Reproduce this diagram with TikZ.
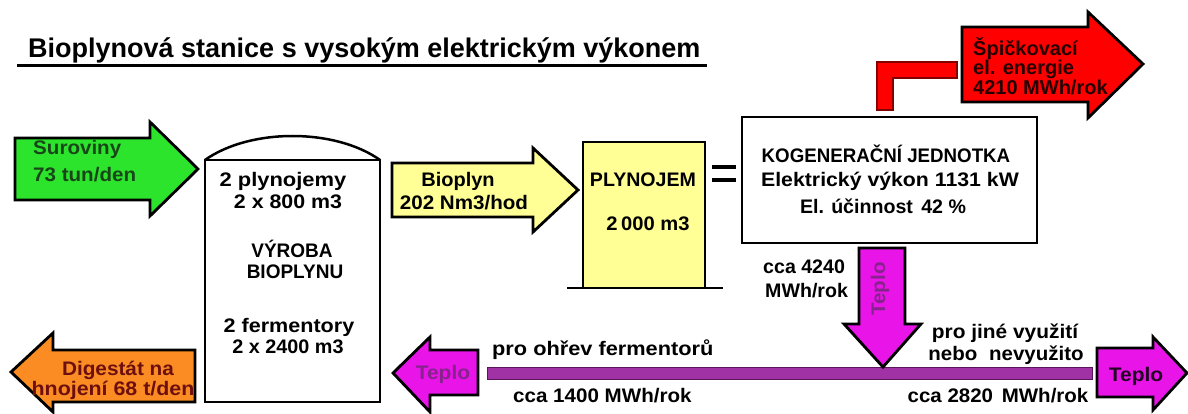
\documentclass[tikz,border=0pt]{standalone}
\usepackage{fontspec}
\setmainfont{Liberation Sans}
\definecolor{cgreen}{RGB}{45,228,45}
\definecolor{cyellow}{RGB}{255,255,150}
\definecolor{cred}{RGB}{255,0,0}
\definecolor{cdarkred}{RGB}{130,0,0}
\definecolor{corange}{RGB}{250,140,35}
\definecolor{cmag}{RGB}{232,20,232}
\definecolor{cpurple}{RGB}{160,50,165}
\definecolor{cdarkpurple}{RGB}{90,20,90}
\definecolor{ctxtgreen}{RGB}{25,70,25}
\definecolor{ctxtred}{RGB}{110,15,15}
\definecolor{ctxtmag}{RGB}{135,35,140}
\newcommand{\sxw}[2]{\scalebox{#1}[1]{#2}}
\begin{document}
\begin{tikzpicture}[x=1pt,y=-1pt,
  lbl/.style={font=\bfseries\fontsize{#1}{22}\selectfont, inner sep=0pt},
  lbl/.default=19.6,
  shp/.style={draw=black, line width=2.8pt, line join=miter},
  boxln/.style={draw=black, line width=2.5pt}]

\useasboundingbox (0,0) rectangle (1188,414);
\fill[white] (0,0) rectangle (1188,414);

% title
\node[lbl=27, anchor=base west] (title) at (28,58) {Bioplynová stanice s vysokým elektrickým výkonem};
\draw[line width=3pt] (17,66) -- (707,66);

% green arrow
\filldraw[shp, fill=cgreen] (15,138) -- (150,138) -- (150,122) -- (198,169) -- (150,216) -- (150,200) -- (15,200) -- cycle;
\node[lbl, anchor=base west, text=ctxtgreen] (sur1) at (33,155) {\sxw{1.05}{Suroviny}};
\node[lbl, anchor=base west, text=ctxtgreen] (sur2) at (33,182) {\sxw{1.05}{73 tun/den}};

% vessel
\draw[boxln] (205,160) rectangle (380,402);
\draw[boxln] (205,160) .. controls (250,128) and (335,128) .. (380,160);
\node[lbl, anchor=base] (v1) at (283,186) {\sxw{1.12}{2 plynojemy}};
\node[lbl, anchor=base] (v2) at (288,208) {\sxw{1.09}{2 x 800 m3}};
\node[lbl, anchor=base] (v3) at (292,257) {\sxw{0.97}{VÝROBA}};
\node[lbl, anchor=base] (v4) at (295,278) {\sxw{0.97}{BIOPLYNU}};
\node[lbl, anchor=base] (v5) at (289,332) {\sxw{1.1}{2 fermentory}};
\node[lbl, anchor=base] (v6) at (288,353) {\sxw{1.01}{2 x 2400 m3}};

% yellow arrow
\filldraw[shp, fill=cyellow] (392,163) -- (533,163) -- (533,148) -- (578,190) -- (533,232) -- (533,217) -- (392,217) -- cycle;
\node[lbl, anchor=base] (b1) at (458,187) {\sxw{1.02}{Bioplyn}};
\node[lbl, anchor=base] (b2) at (464,209) {\sxw{1.05}{202 Nm3/hod}};

% plynojem
\filldraw[boxln, fill=cyellow] (583,142) rectangle (705,288);
\draw[boxln] (567,288) -- (723,288);
\node[lbl, anchor=base] (p1) at (643,187) {PLYNOJEM};
\node[lbl, anchor=base] (p2) at (648,230) {\sxw{1.03}{2\,000 m3}};

% equals
\draw[line width=4pt] (712,167) -- (736,167);
\draw[line width=4pt] (712,180) -- (736,180);

% kogeneracni jednotka
\draw[boxln] (742,117) rectangle (1037,243);
\node[lbl, anchor=base] (k1) at (886,163) {\sxw{0.955}{KOGENERAČNÍ JEDNOTKA}};
\node[lbl, anchor=base] (k2) at (890,187) {\sxw{1.085}{Elektrický výkon 1131 kW}};
\node[lbl, anchor=base] (k3) at (883,213) {El. účinnost\hspace{0.15em} 42 \%};

% red elbow and arrow
\filldraw[fill=cred, draw=cdarkred, line width=1.5pt] (877,62) -- (957,62) -- (957,78) -- (893,78) -- (893,110) -- (877,110) -- cycle;
\filldraw[shp, fill=cred] (962,27) -- (1088,27) -- (1088,12) -- (1143,64) -- (1088,118) -- (1088,102) -- (962,102) -- cycle;
\node[font=\bfseries\fontsize{20}{18.2}\selectfont, inner sep=0pt, align=left, anchor=north west, text=black!85!red] (s1) at (973,37) {Špičkovací\\el. energie\\4210 MWh/rok};

% heat band
\filldraw[fill=cpurple, draw=cdarkpurple, line width=1pt] (487,367) rectangle (1092,379);

% down arrow
\filldraw[shp, fill=cmag] (859,248) -- (905,248) -- (905,324) -- (921,324) -- (883,367) -- (844,324) -- (859,324) -- cycle;
\node[lbl, rotate=90, text=ctxtmag] (t0) at (880,289) {\sxw{1.05}{Teplo}};

% left heat arrow
\filldraw[shp, fill=cmag] (478,350) -- (430,350) -- (430,337) -- (393,373) -- (430,412) -- (430,395) -- (478,395) -- cycle;
\node[lbl, anchor=base, text=ctxtmag] (tl) at (443,379) {\sxw{1.07}{Teplo}};

% right heat arrow
\filldraw[shp, fill=cmag] (1097,348) -- (1153,348) -- (1153,337) -- (1187,373) -- (1153,410) -- (1153,397) -- (1097,397) -- cycle;
\node[lbl, anchor=base, text=black!85!cmag] (tr) at (1136,381) {\sxw{1.07}{Teplo}};

% orange arrow
\filldraw[shp, fill=corange] (195,350) -- (53,350) -- (53,333) -- (11,372) -- (53,412) -- (53,402) -- (195,402) -- cycle;
\node[lbl, anchor=base, text=ctxtred] (d1) at (118,375) {\sxw{1.06}{Digestát na}};
\node[lbl, anchor=base, text=ctxtred] (d2) at (113,395) {\sxw{1.09}{hnojení 68 t/den}};

% free labels
\node[lbl, anchor=base west] (c1) at (763,273) {cca 4240};
\node[lbl, anchor=base west] (c2) at (765,297) {MWh/rok};
\node[lbl, anchor=base west] (f1) at (492,355) {\sxw{1.11}{pro ohřev fermentorů}};
\node[lbl, anchor=base west] (f2) at (513,402) {\sxw{1.05}{cca 1400 MWh/rok}};
\node[lbl, anchor=base] (j1) at (1005,338) {\sxw{1.065}{pro jiné využití}};
\node[lbl, anchor=base] (j2) at (1006,360) {\sxw{1.045}{nebo\hspace{0.3em} nevyužito}};
\node[lbl, anchor=base] (j3) at (998,402) {\sxw{1.045}{cca 2820\hspace{0.15em} MWh/rok}};
\end{tikzpicture}
\end{document}
